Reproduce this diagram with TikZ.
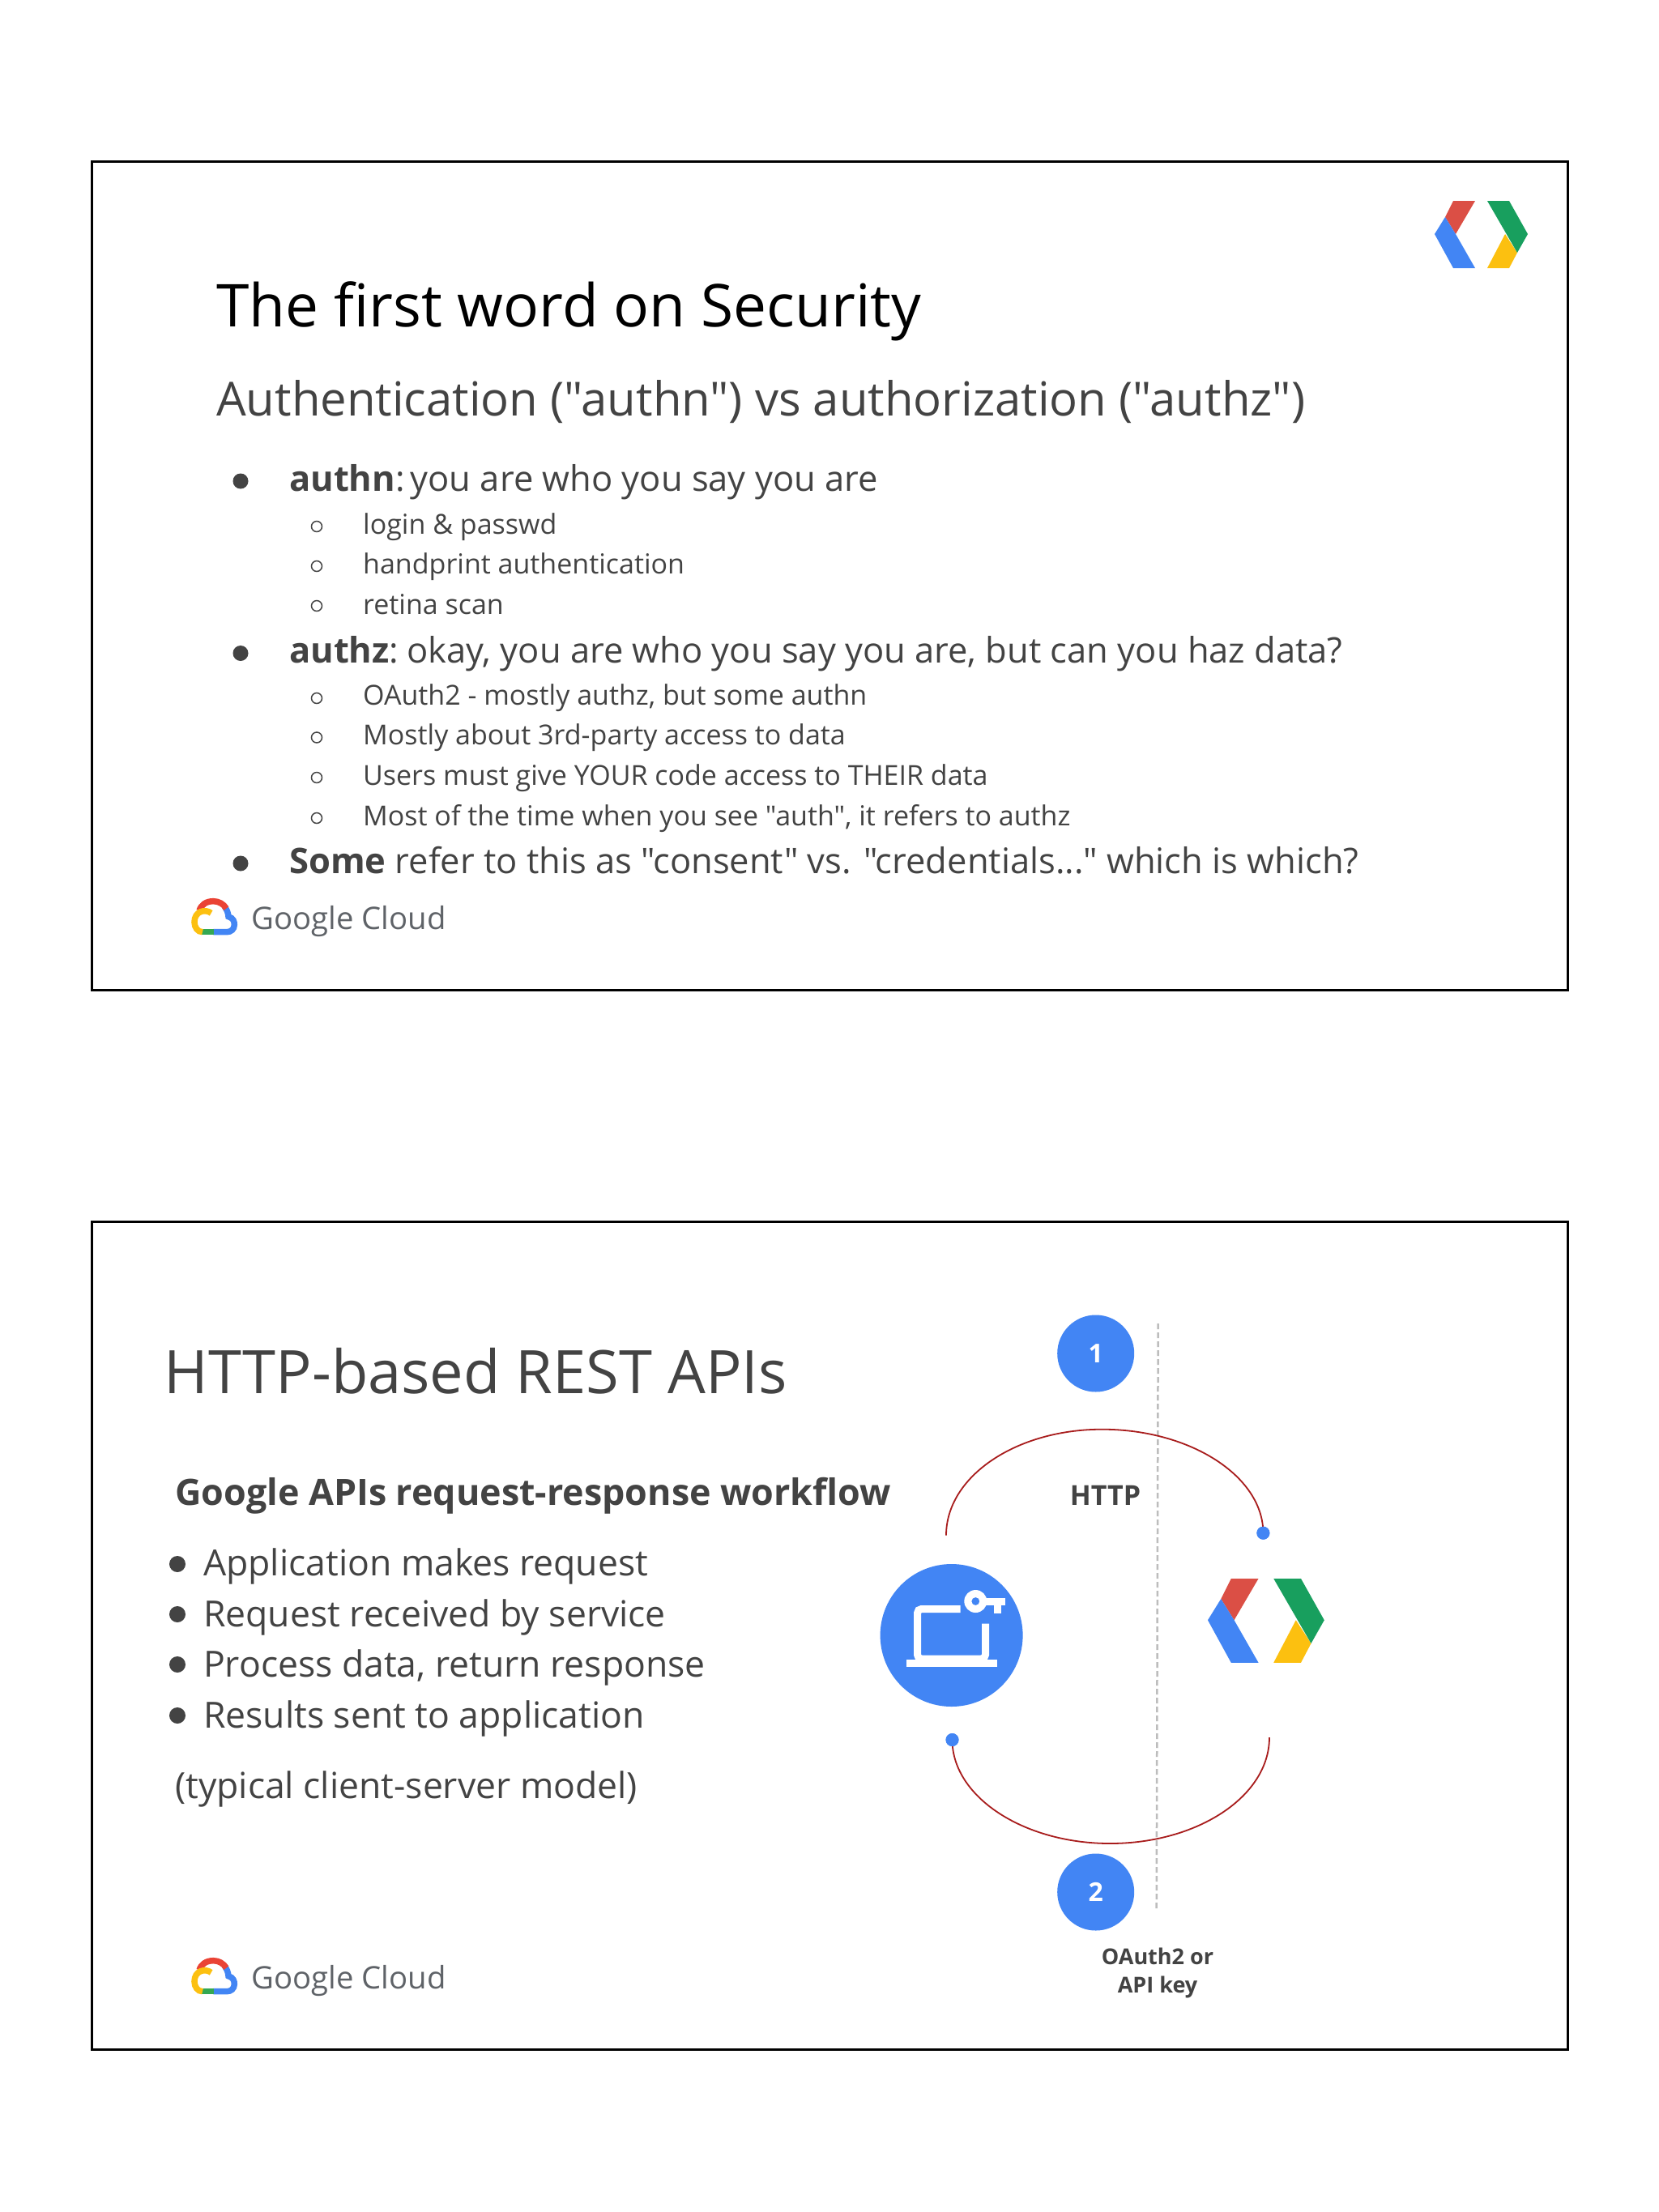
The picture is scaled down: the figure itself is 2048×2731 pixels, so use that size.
\documentclass[tikz,border=0pt]{standalone}
\usepackage{fontspec}
\setmainfont{Open Sans}[Ligatures=TeXOff]
\definecolor{gblue}{HTML}{4285F4}
\definecolor{gred}{HTML}{DB4F45}
\definecolor{ggreen}{HTML}{189F5E}
\definecolor{gyellow}{HTML}{FCC010}
\definecolor{cred}{HTML}{EA4335}
\definecolor{cgreen}{HTML}{34A853}
\definecolor{arcred}{HTML}{A81C1C}
\definecolor{inkB}{HTML}{434343}
\definecolor{inkC}{HTML}{5F6368}
\definecolor{dashgrey}{HTML}{BDBDBD}
\newcommand{\gdlogo}[3]{%
\begin{scope}[shift={(#1,#2)},x=#3pt,y=-#3pt]
\fill[gred] (23,0)--(50,0)--(26,41)--(13,20)--cycle;
\fill[gblue] (13,20)--(26,41)--(50,83)--(23,83)--(0,41)--cycle;
\fill[gyellow] (87,41)--(102,64)--(92,83)--(65,83)--cycle;
\fill[ggreen] (65,0)--(92,0)--(115,41)--(102,64)--cycle;
\end{scope}}
\newcommand{\gclogo}[2]{%
\begin{scope}[shift={(#1,#2)},x=0.3333pt,y=-0.3333pt,line width=7.5pt]
\draw[gblue] (172,88) .. controls (180,100) and (185,110) .. (186,125) .. controls (205,130) and (208,145) .. (208,155) .. controls (208,172) and (195,182) .. (180,182) -- (130,182);
\draw[cgreen] (85,182)--(133,182);
\draw[cred] (78,103) .. controls (85,80) and (105,68) .. (130,68) .. controls (150,68) and (168,78) .. (178,95);
\draw[gyellow] (122,112) .. controls (100,95) and (60,105) .. (60,145) .. controls (60,165) and (72,182) .. (90,182);
\node[anchor=base west,font=\fontsize{38.3}{38}\selectfont,text=inkC,inner sep=0pt] at (260,171) {Google Cloud};
\end{scope}}
\tikzset{
 frame/.style={draw=black,line width=3pt,fill=white},
 txt/.style={anchor=base west,inner sep=0pt},
 titleA/.style={txt,text=black,font=\fontsize{73}{73}\selectfont},
 subA/.style={txt,text=inkB,font=\fontsize{58}{58}\selectfont},
 lvlone/.style={txt,text=inkB,font=\fontsize{43.5}{44}\selectfont},
 lvltwo/.style={txt,text=inkB,font=\fontsize{34}{34}\selectfont},
 bigdot/.style={circle,fill=inkB,minimum size=19pt,inner sep=0pt},
 ringdot/.style={circle,draw=inkB,line width=1.5pt,minimum size=13pt,inner sep=0pt},
 smalldot/.style={circle,fill=inkB,minimum size=20pt,inner sep=0pt},
 titleB/.style={txt,text=inkB,font=\fontsize{74}{74}\selectfont},
 headB/.style={txt,text=inkB,font=\bfseries\fontsize{44.8}{45}\selectfont},
 bodyB/.style={txt,text=inkB,font=\fontsize{44.5}{45}\selectfont},
 numc/.style={circle,fill=gblue,text=white,minimum size=95pt,inner sep=0pt,font=\bfseries\fontsize{32}{32}\selectfont},
 arcline/.style={draw=arcred,line width=1.8pt},
 enddot/.style={circle,fill=gblue,minimum size=16pt,inner sep=0pt},
 lab/.style={text=inkB,inner sep=0pt,font=\bfseries\fontsize{34}{34}\selectfont,align=center},
 labsmall/.style={text=inkB,inner sep=0pt,font=\bfseries\fontsize{27}{35}\selectfont,align=center},
}
\begin{document}
\begin{tikzpicture}[x=1pt,y=-1pt]
\useasboundingbox (0,0) rectangle (2048,2731);
\fill[white] (0,0) rectangle (2048,2731);
\draw[frame] (113,199) rectangle (1935,1222.5);
\draw[frame] (113,1508) rectangle (1935,2530);
% slide one
\gdlogo{1771}{248}{1}
\node[titleA] (t1) at (267,403) {The first word on Security};
\node[subA] (s1) at (267,513) {Authentication ("authn") vs authorization ("authz")};
\node[bigdot] (b1) at (297,594) {};
\node[lvlone] (l1) at (357,606) {\textbf{authn}:\kern-8pt{} you are who you say you are};
\node[ringdot] (r1) at (391,650) {};
\node[lvltwo] (l2) at (448,659) {login \& passwd};
\node[ringdot] (r2) at (391,699) {};
\node[lvltwo] (l3) at (448,708) {handprint authentication};
\node[ringdot] (r3) at (391,748) {};
\node[lvltwo] (l4) at (448,758) {retina scan};
\node[bigdot] (b2) at (297,806.5) {};
\node[lvlone] (l5) at (357,818.5) {\textbf{authz}:\kern-5pt{} okay, you are who you say you are, but can you haz data?};
\node[ringdot] (r4) at (391,862) {};
\node[lvltwo] (l6) at (448,870) {OAuth2 - mostly authz, but some authn};
\node[ringdot] (r5) at (391,910.5) {};
\node[lvltwo] (l7) at (448,919.5) {Mostly about 3rd-party access to data};
\node[ringdot] (r6) at (391,960) {};
\node[lvltwo] (l8) at (448,969) {Users must give YOUR code access to THEIR data};
\node[ringdot] (r7) at (391,1010) {};
\node[lvltwo] (l9) at (448,1019) {Most of the time when you see "auth", it refers to authz};
\node[bigdot] (b3) at (297,1066) {};
\node[lvlone] (l10) at (357,1078) {\textbf{Some} refer to this as "consent" vs. "credentials..." which is which?};
\gclogo{220}{1090}
% slide two
\node[titleB] (t2) at (202.5,1720.5) {HTTP-based REST APIs};
\node[headB] (h2) at (216,1858) {Google APIs request-response workflow};
\node[smalldot] (d1) at (219,1931) {};
\node[bodyB] (p1) at (251,1945) {Application makes request};
\node[smalldot] (d2) at (219,1993) {};
\node[bodyB] (p2) at (251,2008) {Request received by service};
\node[smalldot] (d3) at (219,2055) {};
\node[bodyB] (p3) at (251,2070.5) {Process data, return response};
\node[smalldot] (d4) at (219,2118) {};
\node[bodyB] (p4) at (251,2133) {Results sent to application};
\node[bodyB] (p5) at (216,2220) {(typical client-server model)};
\gclogo{220}{2398}
% diagram
\coordinate (dt) at (1429.7,1634);
\coordinate (db) at (1427.7,2358);
\draw[dashgrey,line width=2.5pt,dash pattern=on 7pt off 4pt] (dt) -- (db);
\node[numc] (n1) at (1352.7,1671) {1};
\node[numc] (n2) at (1352.7,2336) {2};
\node[circle,fill=gblue,minimum size=176pt,inner sep=0pt] (app) at (1174.6,2019) {};
\gdlogo{1491}{1949}{1.25}
\coordinate (as) at (1168,1895.6);
\coordinate (am) at (1360.5,1764.7);
\node[enddot] (ae) at (1559.4,1892.7) {};
\coordinate (bs) at (1567,2145);
\coordinate (bm) at (1370.4,2276);
\node[enddot] (be) at (1175.5,2148) {};
\draw[arcline] (as) .. controls (1168,1823) and (1254,1764.7) .. (am) .. controls (1470,1764.7) and (1559.4,1823) .. (ae.center);
\draw[arcline] (bs) .. controls (1567,2218) and (1478,2276) .. (bm) .. controls (1263,2276) and (1175.5,2218) .. (be.center);
\node[enddot] at (ae) {};
\node[enddot] at (be) {};
\node[lab] (http) at (1364.5,1846) {HTTP};
\node[labsmall] (oa) at (1429,2436) {OAuth2 or\\API key};
% laptop
\fill[white] (1118.5,2049) rectangle (1231,2057.5);
\draw[white,line width=9pt,rounded corners=5pt] (1185.7,1986.5) -- (1132.5,1986.5) -- (1132.5,2048) -- (1216.5,2048) -- (1216.5,2004.7);
\fill[white,even odd rule] (1204.3,1977) circle (14) (1204.3,1977) circle (5);
\fill[white] (1214,1973) rectangle (1241,1982);
\fill[white] (1227,1980) rectangle (1236,1991.5);
\end{tikzpicture}
\end{document}
